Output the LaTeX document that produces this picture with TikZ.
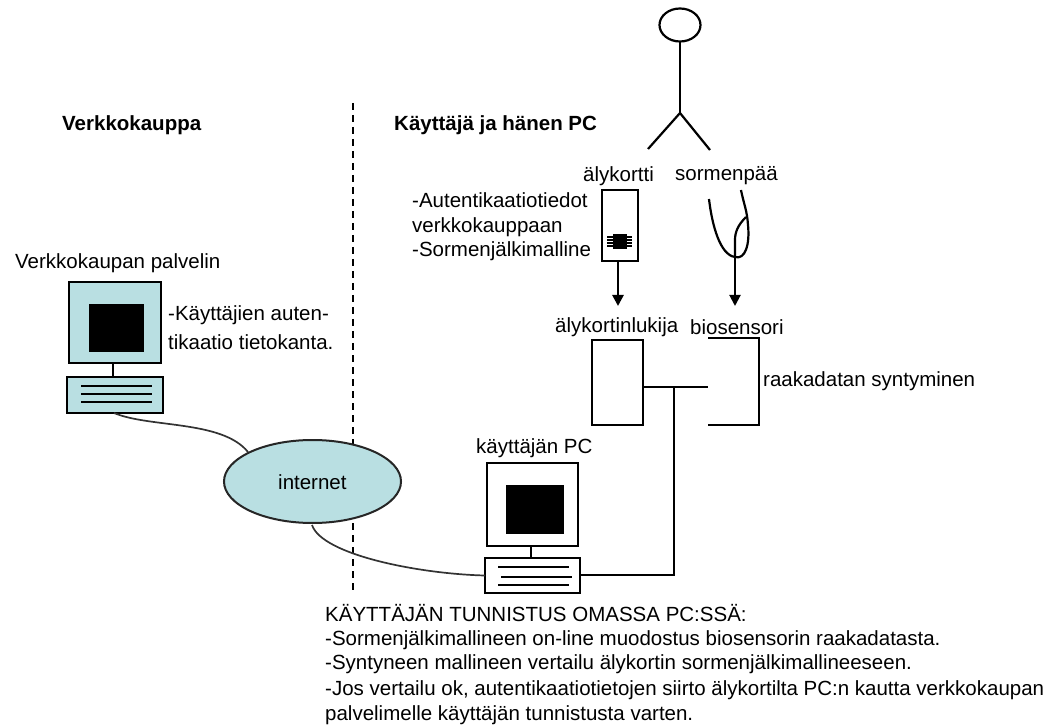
\documentclass[tikz,border=0pt]{standalone}
\usepackage{fontspec}
\setmainfont{Liberation Sans}
\definecolor{pcblue}{HTML}{B9DFE2}
\usetikzlibrary{arrows.meta,shapes.geometric,positioning}
\tikzset{
  lbl/.style={anchor=west,inner sep=0pt,font=\fontsize{20.5}{22}\selectfont,text=black},
  blbl/.style={lbl,font=\fontsize{20.5}{22}\selectfont\bfseries},
  box/.style={draw=black,line width=2.8pt,inner sep=0pt,outer sep=0pt},
  thick line/.style={draw=black,line width=2.8pt},
  cable/.style={draw=black!80,line width=1.7pt},
  keyline/.style={draw=black,line width=1.9pt},
  arr/.style={draw=black,line width=2.6pt,-{Triangle[length=11pt,width=11pt]}},
  limb/.style={draw=black,line width=2.2pt},
}
\begin{document}
\begin{tikzpicture}[x=1pt,y=-1pt]
\useasboundingbox (0,0) rectangle (1063,727);
% divider
\coordinate (divtop) at (353,103);
\coordinate (divbot) at (353,592);
\draw[black,line width=1.6pt,dash pattern=on 7pt off 5pt] (divtop) -- (divbot);
% headings
\node[blbl] (hshop) at (62,125) {Verkkokauppa};
\node[blbl] (huser) at (394,125) {Käyttäjä ja hänen PC};
% stick figure
\node[draw=black,line width=2.2pt,ellipse,minimum width=41pt,minimum height=33pt,inner sep=0pt,outer sep=0pt] (head) at (680,25) {};
\coordinate (hip) at (680,113);
\coordinate (lfoot) at (648,149);
\coordinate (rfoot) at (710,150);
\draw[limb] (head.south) -- (hip);
\draw[limb] (lfoot) -- (hip) -- (rfoot);
\node[lbl] (lcard) at (583,176) {älykortti};
\node[lbl] (lfinger) at (675,176) {sormenpää};
% card
\node[box,minimum width=36pt,minimum height=71pt,anchor=north west] (card) at (602,190) {};
\node[fill=black,minimum width=14pt,minimum height=15pt,inner sep=0pt] (chip) at (620,242) {};
\foreach \yy in {237,240,243,246}{\draw[black,line width=1.3pt] (607,\yy) -- (632,\yy);}
\node[lbl] (ta1) at (412,200) {-Autentikaatiotiedot};
\node[lbl] (ta2) at (412,227) {verkkokauppaan};
\node[lbl] (ta3) at (412,251) {-Sormenjälkimalline};
% finger
\coordinate (ftip) at (735,257);
\draw[limb] (709,199) .. controls (712,225) and (720,255) .. (ftip)
  .. controls (745,260) and (750,245) .. (748,225) .. controls (747,210) and (744,205) .. (741,190);
\draw[limb] (746,217) .. controls (738,225) and (735,232) .. (735,240) -- (ftip);
% reader and sensor
\node[lbl] (lreader) at (555,327) {älykortinlukija};
\node[lbl] (lsensor) at (690,327) {biosensori};
\node[box,minimum width=51pt,minimum height=85pt,anchor=north west] (reader) at (592,340) {};
\coordinate (s1) at (708,338);
\coordinate (s2) at (759,338);
\coordinate (s3) at (759,425);
\coordinate (s4) at (708,425);
\coordinate (sm) at (708,387);
\coordinate (junction) at (674,387);
\draw[thick line] (s1) -- (s2) -- (s3) -- (s4);
\draw[thick line] (reader.east |- sm) -- (sm);
\node[lbl] (lraw) at (763,381) {raakadatan syntyminen};
\coordinate (cardtail) at (618,261);
\coordinate (cardhead) at (618,306);
\coordinate (senshead) at (735,306);
\draw[arr] (cardtail) -- (cardhead);
\draw[arr,line width=2pt] (ftip) -- (senshead);
% server
\node[lbl] (lserver) at (15,263) {Verkkokaupan palvelin};
\node[box,fill=pcblue,minimum width=92pt,minimum height=81pt,anchor=north west] (smon) at (69,282) {};
\node[fill=black,minimum width=55pt,minimum height=48pt,inner sep=0pt,anchor=north west] (sscr) at (89,304) {};
\node[box,fill=pcblue,minimum width=96pt,minimum height=36pt,anchor=north west] (sbase) at (67,377) {};
\draw[thick line] (113,363) -- (113,377);
\foreach \yy in {386,394,402}{\draw[keyline] (81,\yy) -- (152,\yy);}
\node[lbl] (tdb1) at (168,315) {-Käyttäjien auten-};
\node[lbl] (tdb2) at (168,342) {tikaatio tietokanta.};
% internet
\coordinate (c1a) at (114,413);
\coordinate (c1b) at (248,452);
\draw[cable] (c1a) .. controls (150,428) and (222,420) .. (c1b);
\coordinate (c2a) at (312,525);
\node[draw=black!85,line width=2pt,fill=pcblue,ellipse,minimum width=177pt,minimum height=83pt,inner sep=0pt,outer sep=0pt] (net) at (312.5,481.5) {};
\node[lbl] (lnet) at (278,482) {internet};
% user PC
\node[lbl] (lpc) at (476,448) {käyttäjän PC};
\node[box,minimum width=91pt,minimum height=83pt,anchor=north west] (umon) at (487,463) {};
\node[fill=black,minimum width=58pt,minimum height=49pt,inner sep=0pt,anchor=north west] (uscr) at (506,485) {};
\node[box,minimum width=95pt,minimum height=35pt,anchor=north west] (ubase) at (485,558) {};
\draw[thick line] (531,546) -- (531,558);
\draw[keyline] (498,567) -- (569,567);
\draw[keyline] (501,577) -- (572,577);
\draw[keyline] (498,585) -- (569,585);
\draw[cable] (c2a) .. controls (322,555) and (420,574) .. (ubase.west);
\coordinate (u1) at (674,575);
\draw[thick line] (junction) -- (u1) -- (ubase.east |- u1);
% bottom text
\node[lbl,font=\fontsize{20.5}{22}\selectfont] (b1) at (325,613) {KÄYTTÄJÄN TUNNISTUS OMASSA PC:SSÄ:};
\node[lbl] (b2) at (325,640) {-Sormenjälkimallineen on-line muodostus biosensorin raakadatasta.};
\node[lbl] (b3) at (325,664) {-Syntyneen mallineen vertailu älykortin sormenjälkimallineeseen.};
\node[lbl] (b4) at (325,690) {-Jos vertailu ok, autentikaatiotietojen siirto älykortilta PC:n kautta verkkokaupan};
\node[lbl] (b5) at (325,715) {palvelimelle käyttäjän tunnistusta varten.};
\end{tikzpicture}
\end{document}
